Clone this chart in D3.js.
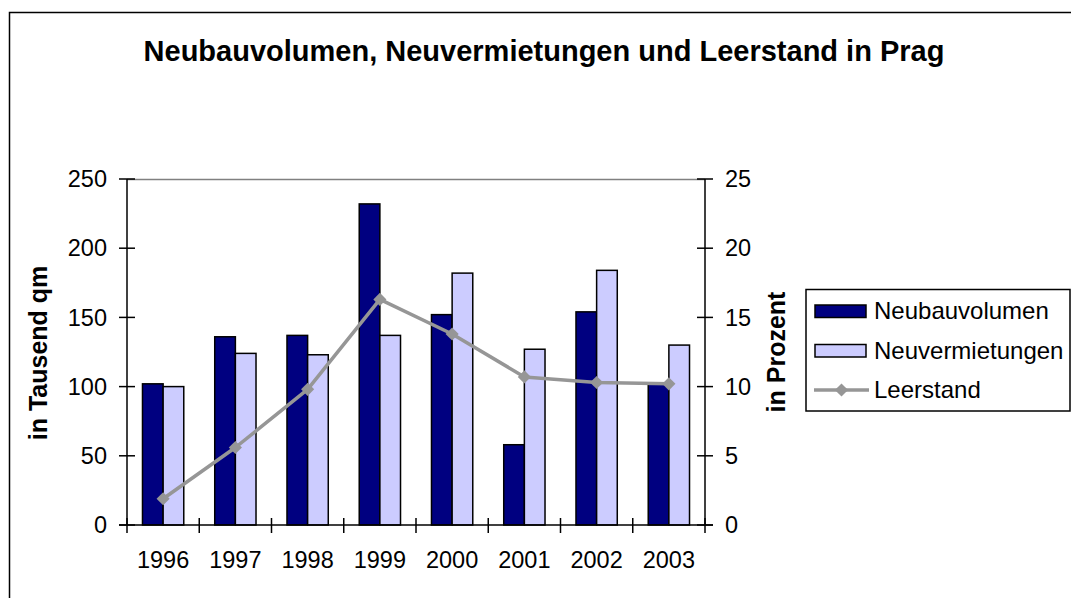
<!DOCTYPE html>
<html>
<head>
<meta charset="utf-8">
<script src="https://cdn.jsdelivr.net/npm/d3@7"></script>
<style>
  body { margin: 0; background: #fff; }
  svg { display: block; font-family: Arial, "Liberation Sans", sans-serif; }
</style>
</head>
<body>
<script>
const years = ['1996', '1997', '1998', '1999', '2000', '2001', '2002', '2003']
const neubau = [102, 136, 137, 232, 152, 58, 154, 102]
const neuverm = [100, 124, 123, 137, 182, 127, 184, 130]
const leerstand = [1.9, 5.6, 9.8, 16.3, 13.8, 10.7, 10.3, 10.2]
const leftTicks = [0, 50, 100, 150, 200, 250]
const rightTicks = [0, 5, 10, 15, 20, 25]

const width = 1071
const height = 598
const plot = { left: 127, right: 705, top: 179, bottom: 525 }
const navy = '#000080'
const lilac = '#CCCCFF'
const grey = '#969696'
const fontSize = 23.5

const svg = d3.select('body').append('svg')
  .attr('width', width)
  .attr('height', height)

// outer chart border (runs off the right and bottom edge)
svg.append('rect')
  .attr('x', 9.5).attr('y', 12.5)
  .attr('width', width + 20).attr('height', height + 20)
  .attr('fill', 'none').attr('stroke', '#000').attr('stroke-width', 1.5)

svg.append('text')
  .attr('x', 544).attr('y', 61)
  .attr('text-anchor', 'middle')
  .attr('font-weight', 'bold')
  .attr('font-size', 29)
  .text('Neubauvolumen, Neuvermietungen und Leerstand in Prag')

const x = d3.scaleBand().domain(years).range([plot.left, plot.right]).paddingInner(0).paddingOuter(0)
const gap = 1.5
const barW = x.bandwidth() / (2 + gap)
const y = d3.scaleLinear().domain([0, 250]).range([plot.bottom, plot.top])
const y2 = d3.scaleLinear().domain([0, 25]).range([plot.bottom, plot.top])

// top edge of plot area
svg.append('line')
  .attr('x1', plot.left).attr('x2', plot.right)
  .attr('y1', plot.top + 0.5).attr('y2', plot.top + 0.5)
  .attr('stroke', '#808080').attr('stroke-width', 1.5)

// bars
const series = [
  { values: neubau, fill: navy },
  { values: neuverm, fill: lilac }
]
series.forEach((s, si) => {
  svg.append('g')
    .selectAll('rect')
    .data(s.values)
    .join('rect')
    .attr('x', (d, i) => x(years[i]) + barW * gap / 2 + si * barW)
    .attr('y', d => y(d))
    .attr('width', barW)
    .attr('height', d => y(0) - y(d))
    .attr('fill', s.fill)
    .attr('stroke', '#000')
    .attr('stroke-width', 1.5)
})

// axes
const axisG = svg.append('g').attr('stroke', '#000').attr('stroke-width', 1.5)
axisG.append('line').attr('x1', plot.left).attr('x2', plot.left).attr('y1', plot.top).attr('y2', plot.bottom)
axisG.append('line').attr('x1', plot.right).attr('x2', plot.right).attr('y1', plot.top).attr('y2', plot.bottom)
axisG.append('line').attr('x1', plot.left - 8).attr('x2', plot.right + 8).attr('y1', plot.bottom).attr('y2', plot.bottom)

axisG.selectAll('.lt').data(leftTicks).join('line')
  .attr('x1', plot.left - 8).attr('x2', plot.left + 8)
  .attr('y1', d => y(d)).attr('y2', d => y(d))
axisG.selectAll('.rt').data(rightTicks).join('line')
  .attr('x1', plot.right - 8).attr('x2', plot.right + 8)
  .attr('y1', d => y2(d)).attr('y2', d => y2(d))
axisG.selectAll('.xt').data(d3.range(years.length + 1)).join('line')
  .attr('x1', i => plot.left + i * x.bandwidth()).attr('x2', i => plot.left + i * x.bandwidth())
  .attr('y1', plot.bottom - 7).attr('y2', plot.bottom + 8)

svg.append('g').attr('font-size', fontSize).attr('text-anchor', 'end')
  .selectAll('text').data(leftTicks).join('text')
  .attr('x', 107).attr('y', d => y(d)).attr('dy', '0.35em')
  .text(d => d)

svg.append('g').attr('font-size', fontSize).attr('text-anchor', 'start')
  .selectAll('text').data(rightTicks).join('text')
  .attr('x', 725).attr('y', d => y2(d)).attr('dy', '0.35em')
  .text(d => d)

svg.append('g').attr('font-size', fontSize).attr('text-anchor', 'middle')
  .selectAll('text').data(years).join('text')
  .attr('x', d => x(d) + x.bandwidth() / 2).attr('y', 568)
  .text(d => d)

// axis titles
svg.append('text')
  .attr('transform', 'translate(47,353) rotate(-90)')
  .attr('text-anchor', 'middle').attr('font-weight', 'bold').attr('font-size', 25)
  .text('in Tausend qm')
svg.append('text')
  .attr('transform', 'translate(785,352) rotate(-90)')
  .attr('text-anchor', 'middle').attr('font-weight', 'bold').attr('font-size', 25)
  .text('in Prozent')

// line series
const line = d3.line()
  .x((d, i) => x(years[i]) + x.bandwidth() / 2)
  .y(d => y2(d))
svg.append('path')
  .datum(leerstand)
  .attr('d', line)
  .attr('fill', 'none').attr('stroke', grey).attr('stroke-width', 3.5)
  .attr('stroke-linejoin', 'round')

const diamond = d3.symbol().type(d3.symbolDiamond2).size(110)
svg.append('g').selectAll('path').data(leerstand).join('path')
  .attr('transform', (d, i) => `translate(${x(years[i]) + x.bandwidth() / 2},${y2(d)})`)
  .attr('d', diamond)
  .attr('fill', grey)

// legend
const legend = svg.append('g')
legend.append('rect')
  .attr('x', 806).attr('y', 289.5).attr('width', 264).attr('height', 121.5)
  .attr('fill', '#fff').attr('stroke', '#000').attr('stroke-width', 1.5)
const items = [
  { label: 'Neubauvolumen', type: 'bar', fill: navy },
  { label: 'Neuvermietungen', type: 'bar', fill: lilac },
  { label: 'Leerstand', type: 'line' }
]
const rowY = [311, 350.5, 390]
items.forEach((it, i) => {
  const cy = rowY[i]
  if (it.type === 'bar') {
    legend.append('rect')
      .attr('x', 815).attr('y', cy - 6).attr('width', 51).attr('height', 12.5)
      .attr('fill', it.fill).attr('stroke', '#000').attr('stroke-width', 1.5)
  } else {
    legend.append('line')
      .attr('x1', 814).attr('x2', 869).attr('y1', cy).attr('y2', cy)
      .attr('stroke', grey).attr('stroke-width', 3.5)
    legend.append('path')
      .attr('transform', `translate(841.5,${cy})`)
      .attr('d', diamond).attr('fill', grey)
  }
  legend.append('text')
    .attr('x', 874).attr('y', cy).attr('dy', '0.35em')
    .attr('font-size', 24)
    .text(it.label)
})
</script>
</body>
</html>
